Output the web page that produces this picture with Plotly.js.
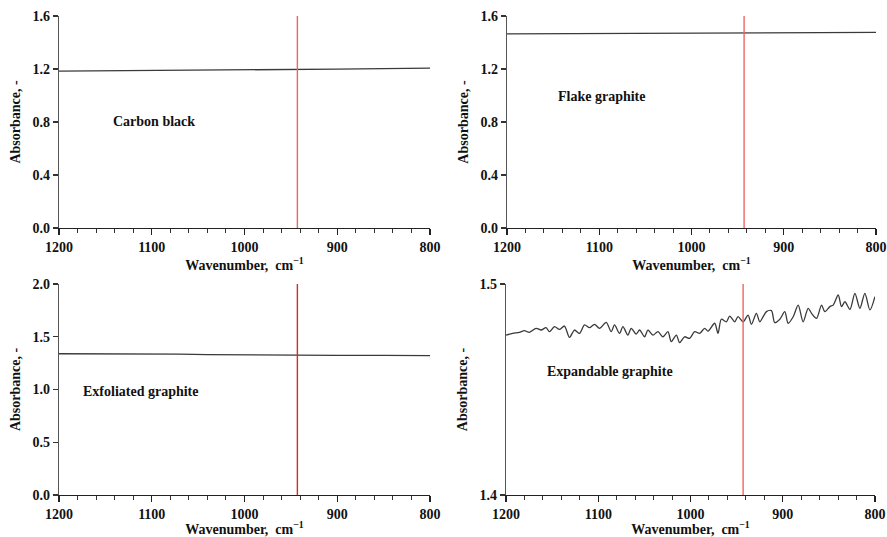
<!DOCTYPE html>
<html><head><meta charset="utf-8">
<script src="https://cdn.plot.ly/plotly-3.0.1.min.js"></script>
<style>html,body{margin:0;padding:0;background:#fff}#c{width:887px;height:537px}</style>
</head><body><div id="c"></div>
<script>
// ---- data ----
const markerWavenumber = 943;

const cbWn = [1200, 1150, 1100, 1050, 1000, 950, 900, 850, 800];
const cbAbs = [1.184, 1.186, 1.187, 1.189, 1.191, 1.195, 1.199, 1.203, 1.207];

const fgWn = [1200, 1160, 1120, 1080, 1040, 1000, 960, 920, 880, 840, 800];
const fgAbs = [1.465, 1.466, 1.468, 1.469, 1.469, 1.470, 1.472, 1.476, 1.476, 1.477, 1.477];

const egWn = [1200, 1150, 1100, 1070, 1040, 1000, 950, 900, 850, 800];
const egAbs = [1.339, 1.339, 1.338, 1.336, 1.330, 1.327, 1.327, 1.324, 1.324, 1.322];

const xgWn = [1200,1192.8,1185.5,1180.1,1174.7,1167.4,1162.0,1156.6,1152.9,1147.5,1142.1,1136.7,1131.2,1125.8,1120.4,1114.9,1109.5,1104.1,1098.7,1091.4,1086.0,1082.4,1076.9,1073.3,1067.9,1064.3,1058.9,1055.2,1049.8,1046.2,1040.8,1035.3,1029.9,1024.5,1020.9,1015.4,1011.8,1006.4,1001.1,995.5,990.1,984.7,981.0,973.8,970.2,966.6,961.1,957.5,952.1,948.5,943.0,937.6,934.0,928.6,924.9,921.3,917.7,912.3,908.7,903.2,897.8,894.2,888.7,883.3,877.9,872.5,868.8,863.4,858.0,854.4,848.9,845.3,839.9,836.3,832.7,827.2,821.8,816.4,811.0,805.5,800.1];
const xgAbs = [1.4758,1.4766,1.4771,1.4779,1.4771,1.4790,1.4782,1.4793,1.4774,1.4798,1.4785,1.4801,1.4747,1.4782,1.4766,1.4806,1.4793,1.4809,1.4790,1.4818,1.4774,1.4806,1.4766,1.4798,1.4758,1.4790,1.4763,1.4782,1.4750,1.4782,1.4758,1.4774,1.4750,1.4774,1.4727,1.4758,1.4722,1.4750,1.4742,1.4774,1.4766,1.4790,1.4777,1.4814,1.4766,1.4833,1.4821,1.4848,1.4821,1.4845,1.4821,1.4853,1.4809,1.4861,1.4821,1.4845,1.4869,1.4874,1.4817,1.4833,1.4869,1.4814,1.4845,1.4900,1.4821,1.4885,1.4861,1.4837,1.4900,1.4869,1.4893,1.4900,1.4948,1.4893,1.4916,1.4880,1.4956,1.4885,1.4956,1.4877,1.4940];

const panelLabels = ["Carbon black", "Flake graphite", "Exfoliated graphite", "Expandable graphite"];
const xTitle = "Wavenumber,  cm<sup>\u22121</sup>";
const yTitle = "Absorbance, -";

// ---- chart ----
const serif = "'Liberation Serif', 'Times New Roman', serif";
const lineStyle = {color: '#3a3a3a', width: 1.3};
const traces = [
  {x: cbWn, y: cbAbs, xaxis: 'x', yaxis: 'y', mode: 'lines', line: lineStyle},
  {x: fgWn, y: fgAbs, xaxis: 'x2', yaxis: 'y2', mode: 'lines', line: lineStyle},
  {x: egWn, y: egAbs, xaxis: 'x3', yaxis: 'y3', mode: 'lines', line: lineStyle},
  {x: xgWn, y: xgAbs, xaxis: 'x4', yaxis: 'y4', mode: 'lines', line: Object.assign({shape: 'spline', smoothing: 0.8}, lineStyle)}
];

const tf = {family: serif, size: 14, color: '#111', weight: 'bold'};

function xax(dom, anchor) {
  return {
    domain: dom, anchor: anchor, range: [1200, 800], dtick: 100, tick0: 800,
    ticks: 'outside', ticklen: 6, tickwidth: 1.2, tickcolor: '#222',
    minor: {dtick: 20, tick0: 800, ticks: 'outside', ticklen: 4, tickcolor: '#333', tickwidth: 1, showgrid: false},
    showline: true, linecolor: '#222', linewidth: 1.3, showgrid: false, zeroline: false,
    tickfont: tf,
    title: {text: xTitle, font: tf, standoff: 3}
  };
}
function yax(dom, anchor, range, dtick) {
  return {
    domain: dom, anchor: anchor, range: range, dtick: dtick, tick0: 0,
    tickformat: '.1f',
    ticks: 'outside', ticklen: 5, tickwidth: 1.2, tickcolor: '#333',
    showline: true, linecolor: '#555', linewidth: 1.3, showgrid: false, zeroline: false,
    tickfont: tf,
    title: {text: yTitle, font: tf, standoff: 8}
  };
}

const xL = [0.0665, 0.4848], xR = [0.5716, 0.9876];
const yT = [0.5754, 0.9702], yB = [0.0782, 0.4711];

function ann(text, px, py) {
  return {text: text, xref: 'paper', yref: 'paper', x: px / 887, y: 1 - py / 537, xanchor: 'left', yanchor: 'middle', showarrow: false, font: tf};
}

const layout = {
  width: 887, height: 537,
  margin: {l: 0, r: 0, t: 0, b: 0},
  paper_bgcolor: '#fff', plot_bgcolor: '#fff',
  showlegend: false,
  xaxis: xax(xL, 'y'), yaxis: yax(yT, 'x', [0, 1.6], 0.4),
  xaxis2: xax(xR, 'y2'), yaxis2: yax(yT, 'x2', [0, 1.6], 0.4),
  xaxis3: xax(xL, 'y3'), yaxis3: yax(yB, 'x3', [0, 2.0], 0.5),
  xaxis4: xax([0.5705, 0.9865], 'y4'), yaxis4: yax(yB, 'x4', [1.4, 1.5], 0.1),
  shapes: [
    {type: 'line', xref: 'x', yref: 'y domain', x0: markerWavenumber, x1: markerWavenumber, y0: 0, y1: 1, line: {color: '#f06464', width: 1.4}},
    {type: 'line', xref: 'x2', yref: 'y2 domain', x0: markerWavenumber, x1: markerWavenumber, y0: 0, y1: 1, line: {color: '#f06464', width: 1.4}},
    {type: 'line', xref: 'x3', yref: 'y3 domain', x0: markerWavenumber, x1: markerWavenumber, y0: 0, y1: 1, line: {color: '#d42a2a', width: 1.4}},
    {type: 'line', xref: 'x4', yref: 'y4 domain', x0: markerWavenumber, x1: markerWavenumber, y0: 0, y1: 1, line: {color: '#f06464', width: 1.4}}
  ],
  annotations: [
    ann(panelLabels[0], 111, 121),
    ann(panelLabels[1], 556, 97),
    ann(panelLabels[2], 81, 391),
    ann(panelLabels[3], 545, 371)
  ]
};

Plotly.newPlot('c', traces, layout, {staticPlot: true, displayModeBar: false});
</script></body></html>
